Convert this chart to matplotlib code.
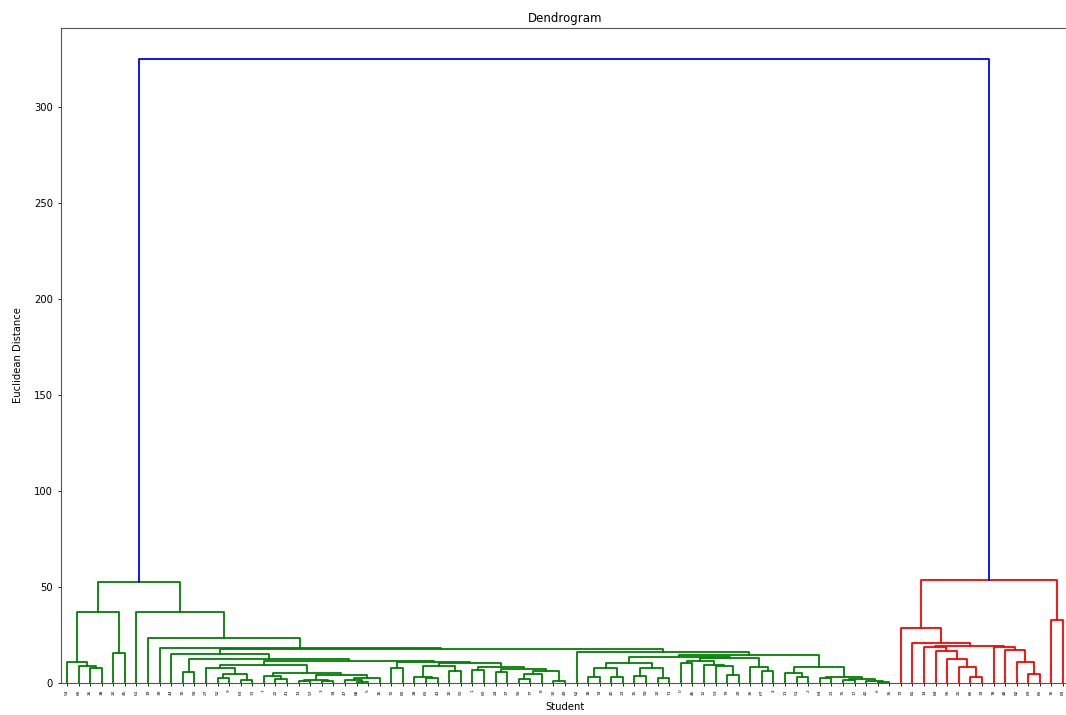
import matplotlib
matplotlib.use("Agg")
from matplotlib import pyplot as plt

# merge heights, a node is [height, left, right], a leaf is a student id
green_left = [36.8, [10.8, 54, [8.9, 66, [7.7, 26, 38]]], [15.8, 20, 45]]

green_low = [9.5, [7.6, 27, [4.6, [2.4, 52, 9], [1.5, 63, 31]]],
             [5.0, [3.6, 7, [2.2, 22, 41]],
              [4.2, [1.8, [1.2, 13, 57], [0.9, 3, 34]],
               [2.6, [1.6, 47, [0.7, 68, 5]], 16]]]]

green_mid = [10.8, [7.6, 72, 80],
             [10.2, [9.0, [3.3, 28, [2.5, 65, 43]], [6.0, 10, 50]],
              [8.5, [6.8, 1, 60],
               [7.2, [5.5, 24, 37], [6.2, [4.7, [2.0, 55, 77], 8], [1.0, 30, 49]]]]]]

green_a = [15.0, 44, [12.3, [5.9, 70, 58], [11.6, green_low, green_mid]]]

green_b1 = [10.4, [7.6, [3.3, 18, 74], [3.0, 40, 23]], [8.0, [3.4, 15, 59], [2.6, 32, 71]]]
green_b2 = [12.8, [11.3, [10.2, 0, 46], [9.6, 12, [8.6, 53, [4.2, 79, 29]]]],
            [8.5, 36, [6.0, 67, 4]]]
green_b3 = [8.5, [5.4, 11, [3.3, 51, 2]],
            [3.0, [2.4, 64, 21], [2.1, [1.5, 75, 17], [1.2, 42, [0.5, 6, 35]]]]]

green_b = [16.3, 62, [14.5, [13.7, green_b1, green_b2], green_b3]]

green_tree = [52.5, green_left,
              [37.0, 61, [23.5, 19, [18.4, 39, [17.6, green_a, green_b]]]]]

red_tree = [53.5,
            [28.6, 73, [21.0, 81, [19.3,
                                   [18.5, 14, [16.5, 84, [12.5, 56, [8.3, 25, [3.0, 86, 33]]]]],
                                   [18.7, 78, [17.2, 48, [11.1, 82, [4.7, 69, 85]]]]]]],
            [33.0, 76, 83]]

top_height = 325.0


class Dendro:
    def __init__(self, ax):
        self.ax = ax
        self.leaves = []

    def draw(self, node, color):
        if not isinstance(node, list):
            self.leaves.append(node)
            return 5 + 10 * (len(self.leaves) - 1), 0.0
        h, left, right = node
        x1, h1 = self.draw(left, color)
        x2, h2 = self.draw(right, color)
        self.ax.plot([x1, x1, x2, x2], [h1, h, h, h2], color=color, linewidth=1.3)
        return (x1 + x2) / 2, h


fig = plt.figure(figsize=(10.66, 7.15), dpi=100)
ax = fig.add_axes([61.2 / 1066, 1 - 683 / 715, 1007.6 / 1066, 655 / 715])

d = Dendro(ax)
xg, hg = d.draw(green_tree, "g")
xr, hr = d.draw(red_tree, "r")
ax.plot([xg, xg, xr, xr], [hg, top_height, top_height, hr], color="b", linewidth=1.3)

n = len(d.leaves)
ax.set_xlim(0, 10 * n)
ax.set_ylim(0, top_height * 1.05)
ax.set_xticks([5 + 10 * i for i in range(n)])
ax.set_xticklabels([str(s) for s in d.leaves], rotation=90, fontsize=3.2)
ax.tick_params(axis="y", labelsize=7.2, length=2.5, width=0.6)
ax.tick_params(axis="x", length=2.5, width=0.6, pad=2)
for sp in ax.spines.values():
    sp.set_color("#555555")
    sp.set_linewidth(0.8)

ax.set_title("Dendrogram", fontsize=8.5, pad=4)
ax.set_xlabel("Student", fontsize=7.2, labelpad=5)
ax.set_ylabel("Euclidean Distance", fontsize=7.2, labelpad=8)

fig.savefig("out.png", dpi=100)
